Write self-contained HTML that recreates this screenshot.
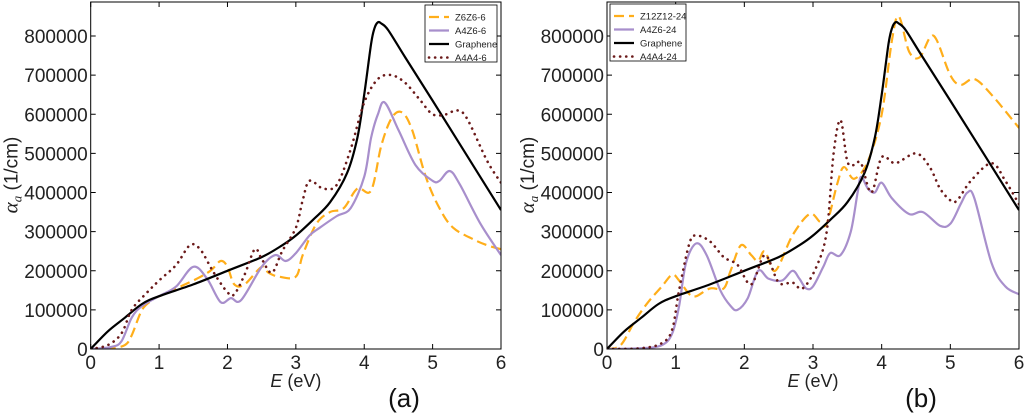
<!DOCTYPE html>
<html><head><meta charset="utf-8"><style>
html,body{margin:0;padding:0;background:#fff;}
svg{display:block;font-family:"Liberation Sans","DejaVu Sans",sans-serif;}
</style></head><body>
<svg id="chart" width="1024" height="413" viewBox="0 0 1024 413" xmlns="http://www.w3.org/2000/svg"></svg>
<script>
// Values in units of 1000 (1/cm)
const xTicks = [0,1,2,3,4,5,6];
const yTicks = [0,100000,200000,300000,400000,500000,600000,700000,800000];
const grE = [0,0.25,0.5,0.75,1,1.5,2,2.5,2.8,3,3.25,3.5,3.75,3.9,4,4.1,4.15,4.2,4.25,4.35,4.6,5,5.5,6];
const grV = [0,45,80,115,135,165,200,235,265,290,330,375,450,540,650,780,820,835,832,815,745,635,495,355];

const aZE = [0,0.3,0.5,0.6,0.75,0.9,1,1.5,1.75,1.9,2.0,2.1,2.25,2.5,2.6,2.75,3,3.1,3.3,3.5,3.7,3.9,4.1,4.25,4.4,4.55,4.7,4.9,5.1,5.3,5.6,5.8,6];
const aZV = [0,2,10,35,100,125,135,175,200,225,210,165,165,210,195,185,185,240,320,350,360,410,405,520,590,605,560,440,360,310,280,265,255];
const aAZE = [0,0.3,0.45,0.6,0.75,1,1.25,1.5,1.7,1.9,2.05,2.2,2.5,2.7,2.85,3,3.2,3.35,3.6,3.8,4,4.1,4.2,4.3,4.5,4.75,5,5.1,5.25,5.4,5.7,6];
const aAZV = [0,5,20,80,110,135,160,210,180,120,130,125,210,240,225,245,290,310,340,360,440,540,600,630,560,470,430,430,455,420,320,240];
const aAAE = [0,0.25,0.45,0.6,0.8,1,1.25,1.45,1.6,1.8,2.0,2.1,2.25,2.4,2.5,2.65,2.8,3,3.1,3.2,3.4,3.6,3.8,4,4.2,4.4,4.6,4.8,5,5.2,5.35,5.5,5.8,6];
const aAAV = [0,10,40,100,140,175,215,265,255,195,145,140,190,255,230,195,250,310,380,430,410,420,510,630,690,700,680,640,600,600,610,590,480,425];

const bZE = [0,0.2,0.4,0.6,0.8,0.95,1.05,1.2,1.3,1.5,1.7,1.8,1.95,2.1,2.2,2.3,2.45,2.7,2.95,3.1,3.2,3.35,3.45,3.6,3.8,4,4.15,4.25,4.4,4.55,4.7,4.8,5,5.15,5.35,5.6,6];
const bZV = [0,10,70,120,160,190,175,140,135,155,155,200,265,240,225,250,200,290,345,325,320,420,465,435,480,600,790,850,760,745,795,790,700,675,690,650,565];
const bAZE = [0,0.5,0.8,0.95,1.05,1.15,1.3,1.45,1.65,1.8,1.9,2.05,2.2,2.35,2.55,2.7,2.8,2.9,3,3.15,3.25,3.4,3.55,3.65,3.7,3.8,3.9,4,4.15,4.4,4.6,4.85,5,5.15,5.25,5.35,5.6,5.8,6];
const bAZV = [0,2,10,40,110,220,270,240,150,110,100,130,200,180,175,200,180,155,160,210,245,240,300,400,440,410,400,425,385,345,350,315,320,370,400,385,220,160,140];
const bAAE = [0,0.5,0.8,0.95,1.05,1.2,1.3,1.5,1.7,1.9,2.1,2.3,2.5,2.7,2.85,3.05,3.2,3.3,3.4,3.5,3.6,3.7,3.85,4,4.2,4.5,4.7,4.85,5,5.1,5.3,5.6,5.8,6];
const bAAV = [0,2,15,50,150,270,290,275,235,215,165,240,170,170,155,210,300,500,585,480,470,475,400,490,475,500,465,410,380,380,430,475,430,370];

const svg = document.getElementById('chart');
const NS = 'http://www.w3.org/2000/svg';
function mk(tag, attrs, parent){const e=document.createElementNS(NS,tag);for(const k in attrs)e.setAttribute(k,attrs[k]);(parent||svg).appendChild(e);return e;}

function smooth(pts){
  let d='M'+pts[0][0].toFixed(1)+','+pts[0][1].toFixed(1);
  for(let i=0;i<pts.length-1;i++){
    const p0=pts[Math.max(0,i-1)],p1=pts[i],p2=pts[i+1],p3=pts[Math.min(pts.length-1,i+2)];
    const c1=[p1[0]+(p2[0]-p0[0])/6,p1[1]+(p2[1]-p0[1])/6];
    const c2=[p2[0]-(p3[0]-p1[0])/6,p2[1]-(p3[1]-p1[1])/6];
    d+='C'+c1[0].toFixed(1)+','+c1[1].toFixed(1)+' '+c2[0].toFixed(1)+','+c2[1].toFixed(1)+' '+p2[0].toFixed(1)+','+p2[1].toFixed(1);
  }
  return d;
}

function panel(id, x0, x1, letter, letterX, series, legend){
  const y0=349, y800=36, top=2;
  const xs=v=>x0+(x1-x0)*v/6;
  const ys=v=>y0-(y0-y800)*v/800;
  const g=mk('g',{});
  
  
  const clipId='clip'+id;
  const cp=mk('clipPath',{id:clipId},g); mk('rect',{x:x0,y:top,width:x1-x0,height:y0-top},cp);
  const lines=mk('g',{'clip-path':'url(#'+clipId+')'},g);
  series.forEach(s=>{
    const pts=s.e.map((e,i)=>[xs(e),ys(s.v[i])]);
    const p=mk('path',{d:smooth(pts),fill:'none',stroke:s.color,'stroke-width':s.w,'stroke-dasharray':s.dash||'none','stroke-linecap':s.cap||'butt'},lines);
    
    
  });
  const frame=mk('rect',{x:x0,y:top,width:x1-x0,height:y0-top,fill:'none',stroke:'#000','stroke-width':1},g);
  
  
  xTicks.forEach(t=>{
    const x=xs(t);
    mk('line',{x1:x,x2:x,y1:y0,y2:y0-5,stroke:'#000'},g);
    mk('line',{x1:x,x2:x,y1:top,y2:top+5,stroke:'#000'},g);
    const tx=mk('text',{x:x,y:y0+20,'font-size':19,'text-anchor':'middle',fill:'#222'},g);
    tx.textContent=t;
    
    
  });
  yTicks.forEach(t=>{
    const y=ys(t/1000);
    mk('line',{x1:x0,x2:x0+5,y1:y,y2:y,stroke:'#000'},g);
    mk('line',{x1:x1,x2:x1-5,y1:y,y2:y,stroke:'#000'},g);
    const ty=mk('text',{x:x0-3,y:y+7,'font-size':19,'text-anchor':'end',fill:'#222'},g);
    ty.textContent=t;
    
    
  });
  const xt=mk('text',{x:(x0+x1)/2,y:387,'font-size':18,'text-anchor':'middle',fill:'#222'},g);
  xt.innerHTML='<tspan font-style="italic">E</tspan> (eV)';
  
  
  const yt=mk('text',{x:0,y:0,'font-size':19,'text-anchor':'middle',fill:'#222',transform:'translate('+(x0-73)+',175) rotate(-90)'},g);
  yt.innerHTML='<tspan font-style="italic" font-family="Liberation Serif" font-size="21">α</tspan><tspan font-style="italic" font-family="Liberation Serif" font-size="13" dy="4">a</tspan><tspan dy="-4"> (1/cm)</tspan>';
  
  
  const lt=mk('text',{x:letterX,y:407,'font-size':26,'text-anchor':'middle',fill:'#111'},g);
  lt.textContent='('+letter+')';
  
  
  const lg=mk('g',{},g);
  
  
  mk('rect',{x:legend.x,y:legend.y,width:legend.w,height:57,fill:'#fff',stroke:'#000','stroke-width':0.8},lg);
  series.forEach((s,i)=>{
    const yy=legend.y+12+i*13.5;
    mk('line',{x1:legend.x+4,x2:legend.x+24,y1:yy,y2:yy,stroke:s.color,'stroke-width':s.w,'stroke-dasharray':s.dash||'none','stroke-linecap':s.cap||'butt'},lg);
    const lx=mk('text',{x:legend.x+30,y:yy+3.5,'font-size':9.5,fill:'#222'},lg);
    lx.textContent=s.name;
    
    
  });
}
const OR='#ffae1a', PU='#a88fcc', BK='#000', DR='#6b1a1a';
panel('a',90.7,501,'a',404,[
  {name:'Z6Z6-6',e:aZE,v:aZV,color:OR,w:2.2,dash:'10 5'},
  {name:'A4Z6-6',e:aAZE,v:aAZV,color:PU,w:2.2},
  {name:'Graphene',e:grE,v:grV,color:BK,w:2.2},
  {name:'A4A4-6',e:aAAE,v:aAAV,color:DR,w:2.6,dash:'0.1 6',cap:'round'}
],{x:425,y:5,w:72});
panel('b',607,1019,'b',921,[
  {name:'Z12Z12-24',e:bZE,v:bZV,color:OR,w:2.2,dash:'10 5'},
  {name:'A4Z6-24',e:bAZE,v:bAZV,color:PU,w:2.2},
  {name:'Graphene',e:grE,v:grV,color:BK,w:2.2},
  {name:'A4A4-24',e:bAAE,v:bAAV,color:DR,w:2.6,dash:'0.1 6',cap:'round'}
],{x:610,y:4,w:76});
</script>
</body></html>
